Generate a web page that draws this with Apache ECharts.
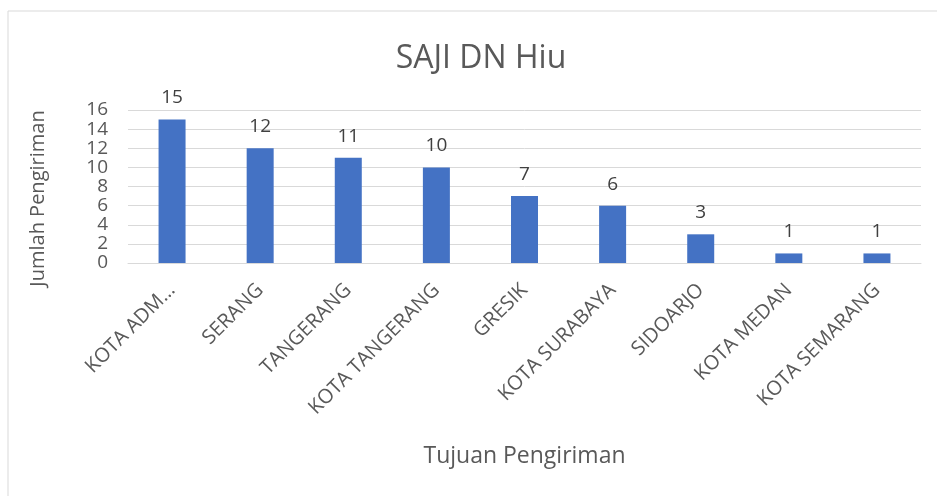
<!DOCTYPE html>
<html><head><meta charset="utf-8">
<script src="https://cdn.jsdelivr.net/npm/echarts@6/dist/echarts.min.js"></script>
<style>html,body{margin:0;padding:0;background:#fff;}#c{width:937px;height:496px;}</style>
</head><body><div id="c"></div>
<script>
const categories = ["KOTA ADM…", "SERANG", "TANGERANG", "KOTA TANGERANG", "GRESIK", "KOTA SURABAYA", "SIDOARJO", "KOTA MEDAN", "KOTA SEMARANG"];
const values = [15, 12, 11, 10, 7, 6, 3, 1, 1];
const yTicks = [0, 2, 4, 6, 8, 10, 12, 14, 16];
const titleText = "SAJI DN Hiu";
const xName = "Tujuan Pengiriman";
const yName = "Jumlah Pengiriman";

const font = "'Open Sans', 'Noto Sans', sans-serif";
const chart = echarts.init(document.getElementById('c'));
chart.setOption({
  backgroundColor: '#fff',
  animation: false,
  graphic: [{type: 'rect', shape: {x: 8, y: 11, width: 940, height: 500}, style: {fill: 'none', stroke: '#d9d9d9', lineWidth: 1}}],
  title: {text: titleText, left: 476, top: 38, textAlign: 'center',
    textStyle: {fontFamily: font, fontSize: 32, fontWeight: 'normal', color: '#595959'}},
  grid: {left: 128, right: 16, top: 110, bottom: 233, containLabel: false},
  xAxis: {type: 'category', data: categories,
    name: xName, nameLocation: 'middle', nameGap: 182,
    nameTextStyle: {fontFamily: font, fontSize: 23, color: '#595959'},
    axisLine: {lineStyle: {color: '#d9d9d9'}}, axisTick: {show: false},
    axisLabel: {rotate: 45, interval: 0, fontFamily: font, fontSize: 20, color: '#595959', margin: 24}},
  yAxis: {type: 'value', min: yTicks[0], max: yTicks[yTicks.length-1], interval: 2,
    name: yName, nameLocation: 'middle', nameGap: 80,
    nameTextStyle: {fontFamily: font, fontSize: 20, color: '#595959', padding: [0, 24, 0, 0]},
    axisLine: {show: false}, axisTick: {show: false},
    splitLine: {lineStyle: {color: '#d9d9d9', width: 1}},
    axisLabel: {fontFamily: font, fontSize: 19, color: '#595959', margin: 20}},
  series: [{type: 'bar', data: values, barWidth: 27,
    itemStyle: {color: '#4472C4'},
    label: {show: true, position: 'top', distance: 12, fontFamily: font, fontSize: 19, color: '#404040'}}]
});
</script></body></html>
